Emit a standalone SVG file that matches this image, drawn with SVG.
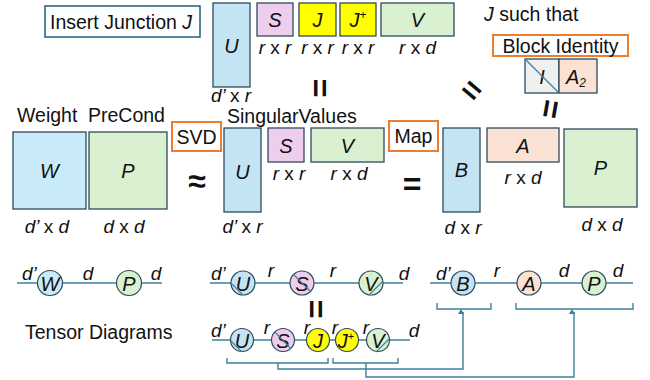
<svg xmlns="http://www.w3.org/2000/svg" width="650" height="380" viewBox="0 0 650 380">
  <style>
    text { font-family: "Liberation Sans", Arial, sans-serif; fill: #111; }
    .lbl { font-size: 19.5px; }
    .it { font-style: italic; }
    .dim { font-size: 19px; font-style: italic; text-anchor: middle; }
    .up { font-style: normal; }
    .mat { font-size: 20px; font-style: italic; text-anchor: middle; dominant-baseline: central; }
    .box { stroke: #2f4a5a; stroke-width: 1.3; }
    .blue { fill: #c4e4f4; }
    .pink { fill: #efcdee; }
    .yel { fill: #ffff00; }
    .green { fill: #d9f1d0; }
    .peach { fill: #fbe2d5; }
    .grey { fill: #f0f0f0; }
    .tag { fill: #fff; stroke: #ed7d31; stroke-width: 2; }
    .wire { stroke: #3f7f9c; stroke-width: 1.4; fill: none; }
    .node { stroke: #2f4a5a; stroke-width: 1.2; }
    .tn { font-size: 20px; font-style: italic; text-anchor: middle; dominant-baseline: central; }
    .sym { font-size: 32px; font-weight: bold; text-anchor: middle; dominant-baseline: central; }
  </style>
  <defs>
    <marker id="tip" markerWidth="6" markerHeight="6" refX="3" refY="5" orient="auto-start-reverse" viewBox="0 0 6 6" markerUnits="userSpaceOnUse">
      <path d="M0,5 L3,0 L6,5 Z" fill="#3f7f9c" transform="rotate(90 3 3)"/>
    </marker>
  </defs>

  <!-- captions and tags -->
  <g id="insert-junction">
    <rect x="45" y="6" width="155" height="31" fill="#fff" stroke="#1f5f7f" stroke-width="1.5"/>
    <text x="50" y="29" class="lbl">Insert Junction <tspan class="it">J</tspan></text>
  </g>
  <g id="such-that">
    <text x="484" y="21" class="lbl"><tspan class="it">J</tspan> such that</text>
  </g>
  <g id="block-identity">
    <rect x="493" y="35" width="135" height="21" class="tag"/>
    <text x="560.5" y="53" class="lbl" text-anchor="middle">Block Identity</text>
  </g>
  <g id="weight-precond">
    <text x="17" y="122" class="lbl">Weight</text>
    <text x="88" y="122" class="lbl">PreCond</text>
  </g>
  <g id="svd">
    <rect x="172" y="122" width="49" height="29" class="tag"/>
    <text x="196.5" y="144" class="lbl" text-anchor="middle">SVD</text>
  </g>
  <g id="singular-values">
    <text x="227" y="123" class="lbl">SingularValues</text>
  </g>
  <g id="map">
    <rect x="389" y="121" width="49" height="30" class="tag"/>
    <text x="413.5" y="143" class="lbl" text-anchor="middle">Map</text>
  </g>
  <g id="tensor-diagrams">
    <text x="25" y="339" class="lbl">Tensor Diagrams</text>
  </g>

  <!-- factorisation with junction J J+ -->
  <g id="top-U">
    <rect x="213" y="3" width="37" height="84" class="box blue"/>
    <text x="231.5" y="46" class="mat">U</text>
    <text x="231" y="102" class="dim">d’ <tspan class="up">x</tspan> r</text>
  </g>
  <g id="top-S">
    <rect x="257" y="3" width="36" height="33" class="box pink"/>
    <text x="275" y="20" class="mat">S</text>
    <text x="275" y="54" class="dim">r <tspan class="up">x</tspan> r</text>
  </g>
  <g id="top-J">
    <rect x="299" y="3" width="37" height="33" class="box yel"/>
    <text x="317.5" y="20" class="mat">J</text>
    <text x="317.5" y="54" class="dim">r <tspan class="up">x</tspan> r</text>
  </g>
  <g id="top-Jplus">
    <rect x="340" y="3" width="36" height="33" class="box yel"/>
    <text x="358" y="20" class="mat">J<tspan font-size="12" font-style="normal" dy="-5">+</tspan></text>
    <text x="358" y="54" class="dim">r <tspan class="up">x</tspan> r</text>
  </g>
  <g id="top-V">
    <rect x="381" y="3" width="73" height="33" class="box green"/>
    <text x="417.5" y="20" class="mat">V</text>
    <text x="417.5" y="54" class="dim">r <tspan class="up">x</tspan> d</text>
  </g>
  <g id="identity-block">
    <rect x="525" y="59" width="34" height="34" class="box grey"/>
    <rect x="559" y="59" width="38" height="34" class="box peach"/>
    <text x="542" y="77" class="mat">I</text>
    <line x1="525" y1="59" x2="559" y2="93" stroke="#3f7f9c" stroke-width="1.2"/>
    <text x="576" y="77" class="mat">A<tspan font-size="12" dy="6">2</tspan></text>
  </g>

  <!-- weight and preconditioner -->
  <g id="W">
    <rect x="13" y="132" width="73" height="77" class="box" fill="#c9eaf8"/>
    <text x="49.5" y="171" class="mat">W</text>
    <text x="47" y="233" class="dim">d’ <tspan class="up">x</tspan> d</text>
  </g>
  <g id="P">
    <rect x="89" y="132" width="78" height="77" class="box green"/>
    <text x="128" y="171" class="mat">P</text>
    <text x="124" y="233" class="dim">d <tspan class="up">x</tspan> d</text>
  </g>

  <!-- SVD factors -->
  <g id="U">
    <rect x="224" y="128" width="37" height="84" class="box blue"/>
    <text x="242.5" y="172" class="mat">U</text>
    <text x="242.5" y="233" class="dim">d’ <tspan class="up">x</tspan> r</text>
  </g>
  <g id="S">
    <rect x="268" y="128" width="36" height="34" class="box pink"/>
    <text x="286" y="146" class="mat">S</text>
    <text x="289" y="180" class="dim">r <tspan class="up">x</tspan> r</text>
  </g>
  <g id="V">
    <rect x="311" y="128" width="73" height="34" class="box green"/>
    <text x="347.5" y="146" class="mat">V</text>
    <text x="349" y="180" class="dim">r <tspan class="up">x</tspan> d</text>
  </g>

  <!-- mapped factors -->
  <g id="B">
    <rect x="443" y="128" width="37" height="84" class="box blue"/>
    <text x="461.5" y="170" class="mat">B</text>
    <text x="463" y="234" class="dim">d <tspan class="up">x</tspan> r</text>
  </g>
  <g id="A">
    <rect x="487" y="128" width="72" height="34" class="box peach"/>
    <text x="523" y="146" class="mat">A</text>
    <text x="523" y="184" class="dim">r <tspan class="up">x</tspan> d</text>
  </g>
  <g id="P2">
    <rect x="564" y="129" width="73" height="78" class="box green"/>
    <text x="600.5" y="168" class="mat">P</text>
    <text x="602" y="231" class="dim">d <tspan class="up">x</tspan> d</text>
  </g>

  <!-- relation signs -->
  <g id="signs">
    <text x="197" y="181" class="sym" font-size="36">≈</text>
    <text x="412" y="184" class="sym">=</text>
    <text x="320" y="88" class="sym" transform="rotate(90 320 88)">=</text>
    <text x="472" y="90" class="sym" transform="rotate(40 472 90)">=</text>
    <text x="551" y="109" class="sym" transform="rotate(100 551 109)">=</text>
    <text x="316" y="309" class="sym" transform="rotate(90 316 309)">=</text>
  </g>

  <!-- tensor network wires and brackets -->
  <g id="connectors">
    <line x1="17" y1="283" x2="162" y2="283" class="wire"/>
    <line x1="210" y1="283" x2="403" y2="283" class="wire"/>
    <line x1="212" y1="340" x2="410" y2="340" class="wire"/>
    <line x1="430" y1="283" x2="633" y2="283" class="wire"/>
    <path d="M227,358 V363 H328 V358 M278,363 V369 H463 V312" class="wire" marker-end="url(#tip)"/>
    <path d="M333,358 V363 H398 V358 M366,363 V377 H574 V312" class="wire" marker-end="url(#tip)"/>
    <path d="M437,303 V309 H491 V303" class="wire"/>
    <path d="M516,303 V309 H633 V303" class="wire"/>
  </g>

  <!-- tensor nodes, row W P -->
  <g id="tW">
    <circle cx="50" cy="283" r="12.5" class="node" fill="#c9eaf8"/>
    <text x="50" y="284" class="tn">W</text>
  </g>
  <g id="tP">
    <circle cx="129" cy="283" r="12.5" class="node green"/>
    <text x="129" y="284" class="tn">P</text>
  </g>
  <g id="tW-labels">
    <text x="22" y="280" class="dim" style="text-anchor:start">d’</text>
    <text x="88" y="280" class="dim">d</text>
    <text x="156" y="280" class="dim">d</text>
  </g>

  <!-- tensor nodes, row U S V -->
  <g id="tU">
    <circle cx="243" cy="283" r="12" class="node blue"/>
    <text x="243" y="284" class="tn">U</text>
    <line x1="232" y1="284" x2="243" y2="295" stroke="#3f7f9c" stroke-width="1.1"/>
  </g>
  <g id="tS">
    <circle cx="302" cy="283" r="12" class="node pink"/>
    <text x="302" y="284" class="tn">S</text>
    <line x1="293" y1="274" x2="311" y2="292" stroke="#3f7f9c" stroke-width="1.1"/>
  </g>
  <g id="tV">
    <circle cx="371" cy="283" r="12" class="node green"/>
    <text x="371" y="284" class="tn">V</text>
    <line x1="369" y1="295" x2="382" y2="282" stroke="#3f7f9c" stroke-width="1.1"/>
  </g>
  <g id="tUSV-labels">
    <text x="211" y="280" class="dim" style="text-anchor:start">d’</text>
    <text x="271" y="277" class="dim">r</text>
    <text x="333" y="277" class="dim">r</text>
    <text x="404" y="280" class="dim">d</text>
  </g>

  <!-- tensor nodes, row U S J J+ V -->
  <g id="tU2">
    <circle cx="242" cy="340" r="11.5" class="node blue"/>
    <text x="242" y="341" class="tn">U</text>
    <line x1="231" y1="341" x2="242" y2="352" stroke="#3f7f9c" stroke-width="1.1"/>
  </g>
  <g id="tS2">
    <circle cx="283" cy="340" r="11.5" class="node pink"/>
    <text x="283" y="341" class="tn">S</text>
    <line x1="275" y1="332" x2="291" y2="349" stroke="#3f7f9c" stroke-width="1.1"/>
  </g>
  <g id="tJ">
    <circle cx="318" cy="340" r="11.5" class="node yel"/>
    <text x="318" y="341" class="tn">J</text>
  </g>
  <g id="tJplus">
    <circle cx="347" cy="340" r="11.5" class="node yel"/>
    <text x="346" y="341" class="tn">J<tspan font-size="11" font-style="normal" dy="-5">+</tspan></text>
  </g>
  <g id="tV2">
    <circle cx="378" cy="340" r="11.5" class="node green"/>
    <text x="378" y="341" class="tn">V</text>
    <line x1="376" y1="352" x2="389" y2="339" stroke="#3f7f9c" stroke-width="1.1"/>
  </g>
  <g id="tUSJV-labels">
    <text x="211" y="337" class="dim" style="text-anchor:start">d’</text>
    <text x="267" y="334" class="dim">r</text>
    <text x="307" y="334" class="dim">r</text>
    <text x="335" y="334" class="dim">r</text>
    <text x="366" y="334" class="dim">r</text>
    <text x="414" y="337" class="dim">d</text>
  </g>

  <!-- tensor nodes, row B A P -->
  <g id="tB">
    <circle cx="463" cy="283" r="12" class="node blue"/>
    <text x="463" y="284" class="tn">B</text>
  </g>
  <g id="tA">
    <circle cx="529" cy="283" r="12" class="node peach"/>
    <text x="529" y="284" class="tn">A</text>
  </g>
  <g id="tP2">
    <circle cx="594" cy="283" r="12" class="node green"/>
    <text x="594" y="284" class="tn">P</text>
  </g>
  <g id="tBAP-labels">
    <text x="436" y="280" class="dim" style="text-anchor:start">d’</text>
    <text x="497" y="277" class="dim">r</text>
    <text x="564" y="277" class="dim">d</text>
    <text x="618" y="277" class="dim">d</text>
  </g>
</svg>
